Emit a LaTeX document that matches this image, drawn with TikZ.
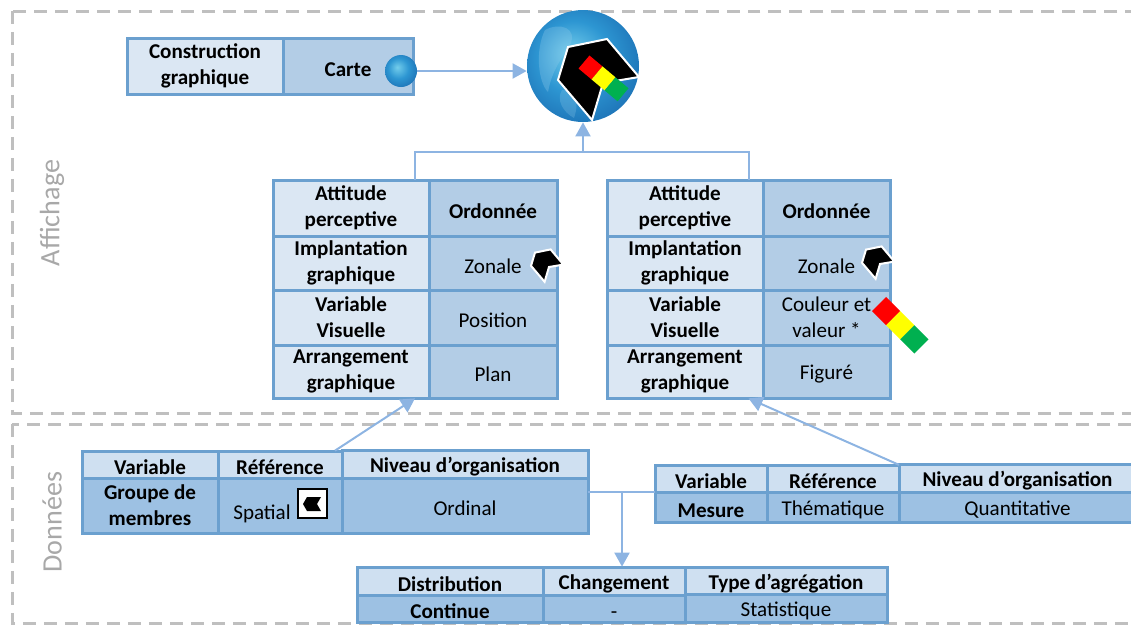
\documentclass[tikz,border=0pt]{standalone}
\usepackage{fontspec}
\setmainfont{Carlito}
\usetikzlibrary{arrows.meta,fit}

\definecolor{bordure}{RGB}{107,160,207}
\definecolor{clair}{RGB}{219,231,243}
\definecolor{moyen}{RGB}{179,205,230}
\definecolor{entete}{RGB}{207,224,241}
\definecolor{donnee}{RGB}{157,193,227}
\definecolor{lien}{RGB}{141,180,226}
\definecolor{cadre}{RGB}{191,191,191}
\definecolor{gris}{RGB}{168,168,168}
\definecolor{rouge}{RGB}{255,0,0}
\definecolor{jaune}{RGB}{255,255,0}
\definecolor{vert}{RGB}{0,176,80}
\definecolor{merclair}{RGB}{115,205,235}
\definecolor{mercentre}{RGB}{45,150,210}
\definecolor{mermoyen}{RGB}{25,105,175}
\definecolor{merbord}{RGB}{15,60,130}
\definecolor{terre}{RGB}{150,205,235}

% sea of the globe, lighter towards the upper left
\pgfdeclareradialshading{ocean}{\pgfpoint{-6bp}{6bp}}{color(0bp)=(merclair); color(16bp)=(mercentre);
  color(34bp)=(mermoyen); color(46bp)=(merbord); color(50bp)=(merbord)}

% one pixel of the drawing
\newdimen\px \px=0.02cm

\tikzset{
  texte/.style={font={\fontsize{12}{14.7}\selectfont}, align=center},
  cellule/.style={texte, draw=bordure, line width=3\px, inner sep=1pt, outer sep=0pt,
    execute at begin node={\rule{0pt}{11.5pt}}},
  haut/.style={execute at begin node={\rule{0pt}{15pt}}},
  celclair/.style={cellule, fill=clair},
  celmoyen/.style={cellule, fill=moyen},
  celentete/.style={cellule, fill=entete},
  celdonnee/.style={cellule, fill=donnee},
  lien/.style={draw=lien, line width=2\px},
  fleche/.style={lien, -{Triangle[width=0.3cm,length=0.28cm]}},
  cadre/.style={draw=cadre, line width=3\px, dash pattern=on 0.26cm off 0.16cm},
  monde/.style={circle, inner sep=0pt, shading=ocean},
  zonale/.pic={\filldraw[fill=black, draw=white, line width=2\px]
    (-40,2) -- (-30,-31) -- (9,-39) -- (41,-1) -- (5,5) -- (-6,42) -- cycle;},
  barre/.pic={\fill[rouge] (0,-0.5) rectangle (1,0.5);
    \fill[jaune] (1,-0.5) rectangle (2,0.5);
    \fill[vert] (2,-0.5) rectangle (3,0.5);},
}

% \cellule{name}{x1}{y1}{x2}{y2}{style}{text}
\newcommand{\cellule}[7]{%
  \node[#6, minimum width={(#4-#2)*\px}, minimum height={(#5-#3)*\px}]
    (#1) at ({(#2+#4)/2},{(#3+#5)/2}) {#7};}

\begin{document}
\begin{tikzpicture}[x=0.02cm,y=-0.02cm]
  \useasboundingbox (0,0) rectangle (1131,626);

  % the two zones
  \draw[cadre] (12,11) rectangle (1160,413);
  \draw[cadre] (12,424) rectangle (1160,623);
  \node[texte, rotate=90, text=gris, font={\fontsize{16}{19}\selectfont}] (affichage) at (52,213) {Affichage};
  \node[texte, rotate=90, text=gris, font={\fontsize{16}{19}\selectfont}] (donnees) at (52,522) {Données};

  % the map
  \node[monde, minimum size=112\px] (globe) at (583,66) {};
  \begin{scope}
    \clip (583,66) circle (55);
    \fill[terre, opacity=0.3] (545,30) .. controls (560,22) and (578,28) .. (570,45) .. controls (562,58) and (552,70) .. (548,92) .. controls (538,82) and (535,50) .. cycle;
    \fill[terre, opacity=0.25] (562,90) .. controls (575,88) and (580,100) .. (574,118) .. controls (563,112) and (556,100) .. cycle;
  \end{scope}
  \pic at (598,78) {zonale};
  \pic[rotate=-40, scale=17] at (584,62) {barre};

  % construction graphique
  \cellule{cg}{127}{38}{283}{94}{celclair,haut}{\textbf{Construction}\\\textbf{graphique}}
  \cellule{carte}{283}{38}{413}{94}{celmoyen}{\textbf{Carte}}
  \node[monde, minimum size=32\px] (petitglobe) at (401,71) {};
  \draw[fleche] (petitglobe.east) -- (globe.west |- petitglobe.east);

  % display tables
  \cellule{G11}{273}{180}{429}{236}{celclair,haut}{\textbf{Attitude}\\\textbf{perceptive}}
  \cellule{G21}{273}{236}{429}{290}{celclair,haut}{\textbf{Implantation}\\\textbf{graphique}}
  \cellule{G31}{273}{290}{429}{345}{celclair,haut}{\textbf{Variable}\\\textbf{Visuelle}}
  \cellule{G41}{273}{345}{429}{398}{celclair,haut}{\textbf{Arrangement}\\\textbf{graphique}}
  \cellule{G12}{429}{180}{557}{236}{celmoyen}{\textbf{Ordonnée}}
  \cellule{G22}{429}{236}{557}{290}{celmoyen}{Zonale}
  \cellule{G32}{429}{290}{557}{345}{celmoyen}{Position}
  \cellule{G42}{429}{345}{557}{398}{celmoyen}{Plan}

  \cellule{D11}{607}{180}{763}{236}{celclair,haut}{\textbf{Attitude}\\\textbf{perceptive}}
  \cellule{D21}{607}{236}{763}{290}{celclair,haut}{\textbf{Implantation}\\\textbf{graphique}}
  \cellule{D31}{607}{290}{763}{345}{celclair,haut}{\textbf{Variable}\\\textbf{Visuelle}}
  \cellule{D41}{607}{345}{763}{398}{celclair,haut}{\textbf{Arrangement}\\\textbf{graphique}}
  \cellule{D12}{763}{180}{890}{236}{celmoyen}{\textbf{Ordonnée}}
  \cellule{D22}{763}{236}{890}{290}{celmoyen}{Zonale}
  \cellule{D32}{763}{290}{890}{345}{celmoyen,haut}{Couleur et\\valeur *}
  \cellule{D42}{763}{345}{890}{398}{celmoyen}{Figuré}

  \node[fit=(G11)(G42), inner sep=0pt] (tabG) {};
  \node[fit=(D11)(D42), inner sep=0pt] (tabD) {};
  \pic[scale=0.4] at (547,265) {zonale};
  \pic[scale=0.4] at (878,262) {zonale};
  \pic[rotate=-45, scale=20] at (879,304) {barre};

  \draw[lien] (tabG.north) -- ++(0,-28) coordinate (coude) -| (tabD.north);
  \draw[fleche] (coude -| globe.south) -- (globe.south);

  % data tables
  \cellule{dG11}{82}{451}{218}{478}{celentete}{\textbf{Variable}}
  \cellule{dG12}{218}{451}{342}{478}{celentete}{\textbf{Référence}}
  \cellule{dG13}{342}{451}{588}{478}{celentete}{\textbf{Niveau d’organisation}}
  \cellule{dG21}{82}{478}{218}{533}{celdonnee,haut}{\textbf{Groupe de}\\\textbf{membres}}
  \cellule{dG22}{218}{478}{342}{533}{celdonnee}{}
  \cellule{dG23}{342}{478}{588}{533}{celdonnee}{Ordinal}
  \node[texte] (spatial) at (262,514) {Spatial};
  \node[draw=black, line width=2\px, fill=white, minimum size=29\px, inner sep=0pt] (iconespatial) at (312,503) {};
  \fill (303,504) -- (307,497) -- (321,497) -- (317,504) -- (321,511) -- (307,511) -- cycle;

  \cellule{dD11}{655}{465}{767}{492}{celentete}{\textbf{Variable}}
  \cellule{dD12}{767}{465}{899}{492}{celentete}{\textbf{Référence}}
  \cellule{dD13}{899}{465}{1136}{492}{celentete}{\textbf{Niveau d’organisation}}
  \cellule{dD21}{655}{492}{767}{522}{celdonnee}{\textbf{Mesure}}
  \cellule{dD22}{767}{492}{899}{522}{celdonnee}{Thématique}
  \cellule{dD23}{899}{492}{1136}{522}{celdonnee}{Quantitative}

  \cellule{b11}{357}{567}{543}{595}{celentete}{\textbf{Distribution}}
  \cellule{b12}{543}{567}{685}{595}{celentete}{\textbf{Changement}}
  \cellule{b13}{685}{567}{887}{595}{celentete}{\textbf{Type d’agrégation}}
  \cellule{b21}{357}{595}{543}{622}{celdonnee}{\textbf{Continue}}
  \cellule{b22}{543}{595}{685}{622}{celdonnee}{-}
  \cellule{b23}{685}{595}{887}{622}{celdonnee}{Statistique}

  \node[fit=(dG11)(dG23), inner sep=0pt] (donG) {};
  \node[fit=(dD11)(dD23), inner sep=0pt] (donD) {};
  \node[fit=(b11)(b23), inner sep=0pt] (bas) {};

  \draw[fleche] (donG.north) -- (tabG.south);
  \draw[fleche] (dD13.north west) -- (tabD.south);
  \draw[lien] (donG.east) -- (donG.east -| donD.west);
  \draw[fleche] (donG.east -| bas.north) -- (bas.north);
\end{tikzpicture}
\end{document}
